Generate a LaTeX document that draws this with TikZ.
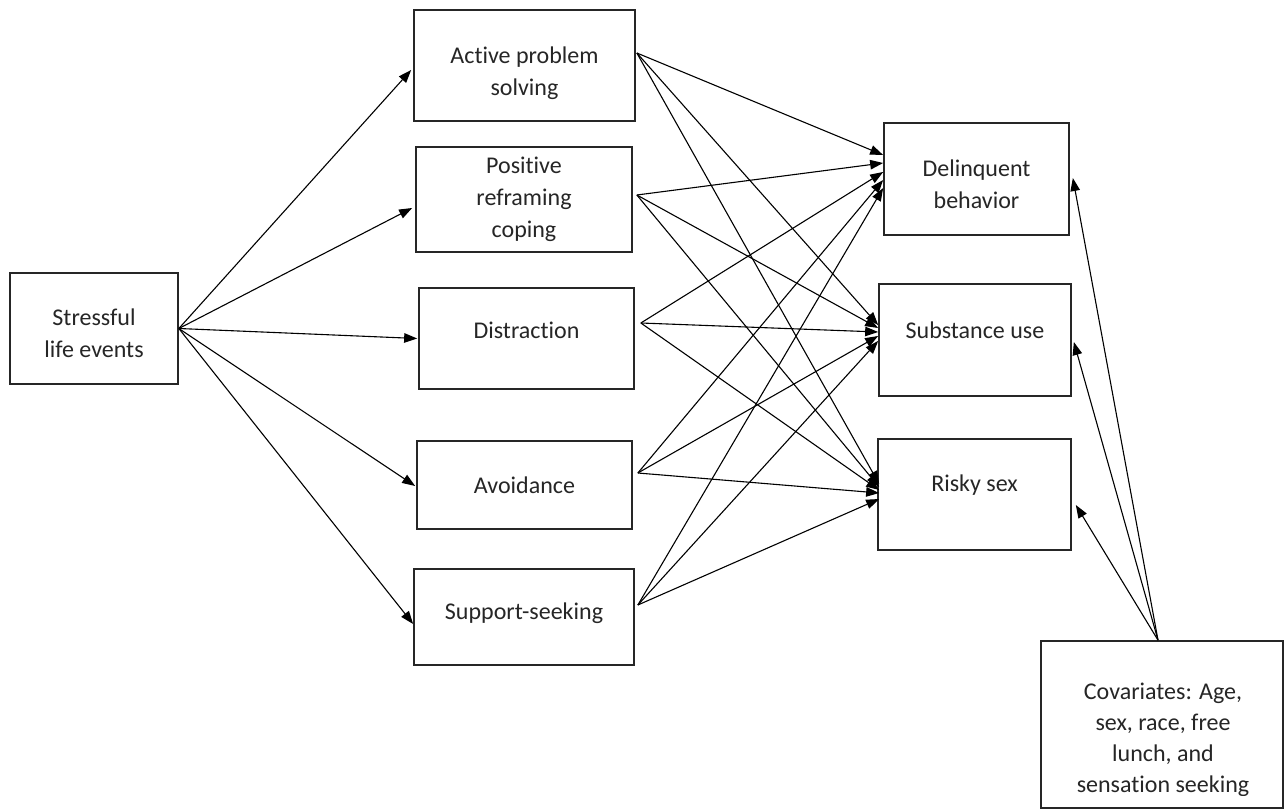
\documentclass[tikz,border=0pt]{standalone}
\usepackage{fontspec}
\setmainfont{Carlito}[Ligatures=NoCommon]
\usetikzlibrary{arrows.meta}
\begin{document}
\begin{tikzpicture}[x=1pt,y=-1pt,
  box/.style={draw=black!85,line width=1.7pt,fill=white,inner sep=0pt},
  txt/.style={align=center,inner sep=0pt,font=\fontsize{24}{32}\selectfont,text=black!85},
  arr/.style={line width=1.1pt,-{Triangle[length=13pt,width=9.5pt]}}]
\useasboundingbox (0,0) rectangle (1286,811);
% boxes
\node[box,minimum width=168pt,minimum height=111pt,label={[txt,yshift=-5pt]center:{Stressful\\life events}}] (se) at (94,328.5) {};
\node[box,minimum width=221pt,minimum height=111pt,label={[txt,yshift=-8pt]center:{Active problem\\solving}}] (act) at (524.5,65.5) {};
\node[box,minimum width=216pt,minimum height=105pt,label={[txt]center:{Positive\\reframing\\coping}}] (pos) at (524,199.5) {};
\node[box,minimum width=215pt,minimum height=101pt,label={[txt,yshift=8pt]center:Distraction}] (dis) at (526.5,338.5) {};
\node[box,minimum width=215pt,minimum height=88pt,label={[txt]center:Avoidance}] (avo) at (524.5,485) {};
\node[box,minimum width=220pt,minimum height=96pt,label={[txt,yshift=4pt]center:Support-seeking}] (sup) at (524,617) {};
\node[box,minimum width=185pt,minimum height=112pt,label={[txt,yshift=-5pt]center:{Delinquent\\behavior}}] (del) at (976.5,179) {};
\node[box,minimum width=192pt,minimum height=112pt,label={[txt,yshift=10pt]center:Substance use}] (sub) at (975,340) {};
\node[box,minimum width=193pt,minimum height=111pt,label={[txt,yshift=9pt]center:Risky sex}] (ris) at (974.5,494.5) {};
\node[box,minimum width=242pt,minimum height=167pt] (cov) at (1162,724.5) {};
\begin{scope}
\clip (1045,645) rectangle (1279,795);
\node[txt,font=\fontsize{24}{31}\selectfont] (covtext) at (1163,740)
  {Covariates: Age,\\sex, race, free\\lunch, and\\sensation seeking};
\end{scope}
% stressful to coping
\draw[arr] (se.east) -- ([yshift=-4.5pt,xshift=-2pt]act.west);
\draw[arr] (se.east) -- ([yshift=-8.5pt,xshift=-3pt]pos.west);
\draw[arr] (se.east) -- ([xshift=-1pt]dis.west);
\draw[arr] (se.east) -- ([yshift=-1pt,xshift=-1pt]avo.west);
\draw[arr] (se.east) -- ([yshift=-7pt]sup.west);
% coping to outcomes
\coordinate (actO) at ([xshift=1pt,yshift=12.5pt]act.east);
\coordinate (posO) at ([xshift=4pt,yshift=4.5pt]pos.east);
\coordinate (disO) at ([xshift=6pt,yshift=15.5pt]dis.east);
\coordinate (avoO) at ([xshift=5pt,yshift=12pt]avo.east);
\coordinate (supO) at ([xshift=3pt,yshift=12pt]sup.east);
\draw[arr] (actO) -- ([yshift=24pt]del.west);
\draw[arr] (posO) -- ([yshift=16pt]del.west);
\draw[arr] (disO) -- ([yshift=7pt]del.west);
\draw[arr] (avoO) -- ([yshift=-1pt]del.west);
\draw[arr] (supO) -- ([yshift=-9pt]del.west);
\draw[arr] (actO) -- ([yshift=15pt]sub.west);
\draw[arr] (posO) -- ([yshift=12pt]sub.west);
\draw[arr] (disO) -- ([yshift=8pt]sub.west);
\draw[arr] (avoO) -- ([yshift=4pt]sub.west);
\draw[arr] (supO) -- ([yshift=-1pt]sub.west);
\draw[arr] (actO) -- ([xshift=2pt,yshift=10.5pt]ris.west);
\draw[arr] (posO) -- ([xshift=2pt,yshift=7.5pt]ris.west);
\draw[arr] (disO) -- ([xshift=2pt,yshift=4.5pt]ris.west);
\draw[arr] (avoO) -- ([xshift=2pt,yshift=1.5pt]ris.west);
\draw[arr] (supO) -- ([xshift=2pt,yshift=-4.5pt]ris.west);
% covariates
\coordinate (covO) at ([xshift=-4pt]cov.north);
\draw[arr] (covO) -- ([xshift=3pt,yshift=1pt]del.east);
\draw[arr] (covO) -- ([xshift=2pt,yshift=-2pt]sub.east);
\draw[arr] (covO) -- ([xshift=4pt,yshift=-10.5pt]ris.east);
\end{tikzpicture}
\end{document}
